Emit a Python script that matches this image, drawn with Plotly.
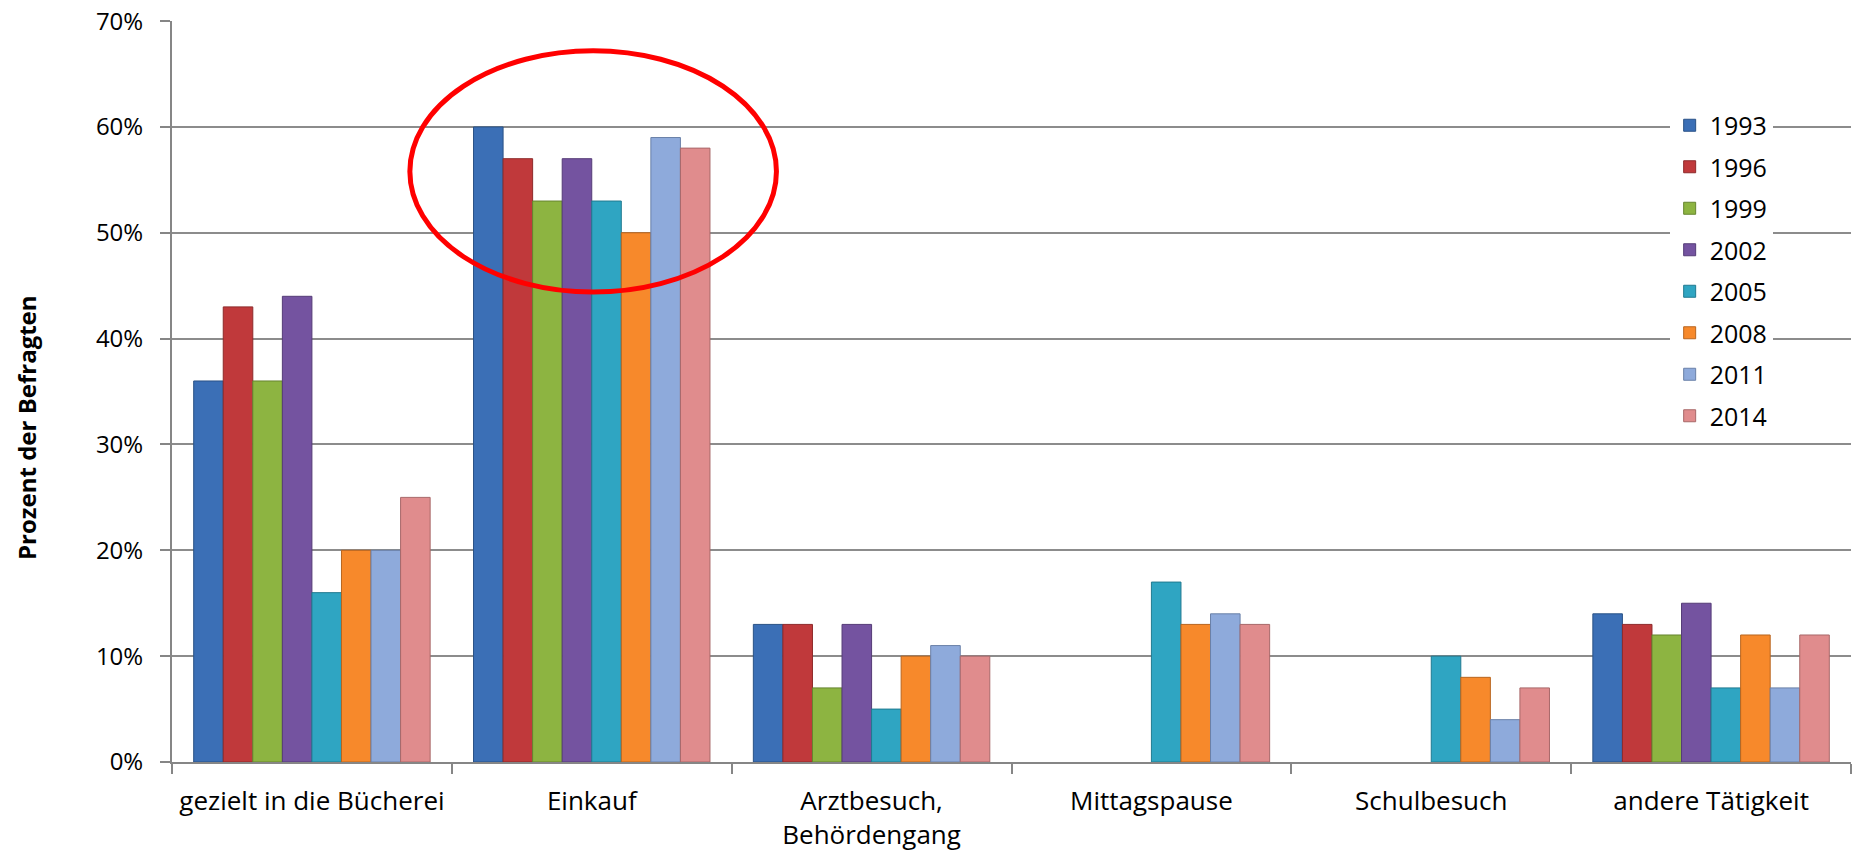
import plotly.graph_objects as go

categories = ["gezielt in die Bücherei", "Einkauf", "Arztbesuch,<br>Behördengang",
              "Mittagspause", "Schulbesuch", "andere Tätigkeit"]
years = ["1993", "1996", "1999", "2002", "2005", "2008", "2011", "2014"]

# Prozent der Befragten je Jahr (None = nicht erhoben)
v1993 = [36, 60, 13, None, None, 14]
v1996 = [43, 57, 13, None, None, 13]
v1999 = [36, 53, 7, None, None, 12]
v2002 = [44, 57, 13, None, None, 15]
v2005 = [16, 53, 5, 17, 10, 7]
v2008 = [20, 50, 10, 13, 8, 12]
v2011 = [20, 59, 11, 14, 4, 7]
v2014 = [25, 58, 10, 13, 7, 12]
series = [v1993, v1996, v1999, v2002, v2005, v2008, v2011, v2014]

colors = ["#3b6fb6", "#c0393b", "#8db441", "#7453a0", "#2fa5c2", "#f7892b", "#8eaadb", "#e08c8d"]
edges = ["#2a5286", "#8e2a2b", "#66852f", "#553c77", "#217a90", "#b8651f", "#6a80a8", "#a86869"]

fig = go.Figure()
for year, vals, col, edge in zip(years, series, colors, edges):
    fig.add_bar(
        x=categories,
        y=[v / 100 if v is not None else None for v in vals],
        name=year,
        legendgroup=year,
        marker=dict(color=col, line=dict(color=edge, width=1)),
    )

# roter Kreis um "Einkauf"
fig.add_shape(
    type="circle", xref="x", yref="y",
    x0=0.35, x1=1.66, y0=0.444, y1=0.672,
    line=dict(color="#ff0000", width=5),
)

fig.add_annotation(
    text="<b>Prozent der Befragten</b>",
    xref="paper", yref="paper", x=-0.087, y=0.452,
    xanchor="center", yanchor="middle",
    textangle=-90, showarrow=False,
    font=dict(family="Open Sans", size=24, color="black"),
)

fig.update_layout(
    width=1858, height=852,
    barmode="group", bargap=0.155, bargroupgap=0,
    plot_bgcolor="white", paper_bgcolor="white",
    margin=dict(l=172, r=7, t=21, b=90, autoexpand=False),
    font=dict(family="Open Sans", color="black", size=26),
    xaxis=dict(
        showline=True, linecolor="#868686", linewidth=2,
        ticks="outside", tickson="boundaries", ticklen=10, tickcolor="#868686", tickwidth=1.5,
        tickfont=dict(size=26), ticklabelstandoff=15, automargin=False,
    ),
    yaxis=dict(
        range=[0, 0.7001], tick0=0, dtick=0.1, tickformat=".0%",
        showline=True, linecolor="#868686", linewidth=2,
        showgrid=True, gridcolor="#8c8c8c", gridwidth=1.5,
        ticks="outside", ticklen=10, tickcolor="#868686", tickwidth=1.5,
        tickfont=dict(size=24), zeroline=False, ticklabelstandoff=12,
        ticklabeloverflow="allow", automargin=False,
    ),
    legend=dict(
        x=0.892, y=0.89, xanchor="left", yanchor="top",
        bgcolor="white", font=dict(size=25), tracegroupgap=6,
        traceorder="grouped",
    ),
)

# Seitenrand entfernen, damit die Grafik genau das Fenster füllt
fig.write_html("out.html", config={"displayModeBar": False},
               post_script="document.body.style.margin='0';")
